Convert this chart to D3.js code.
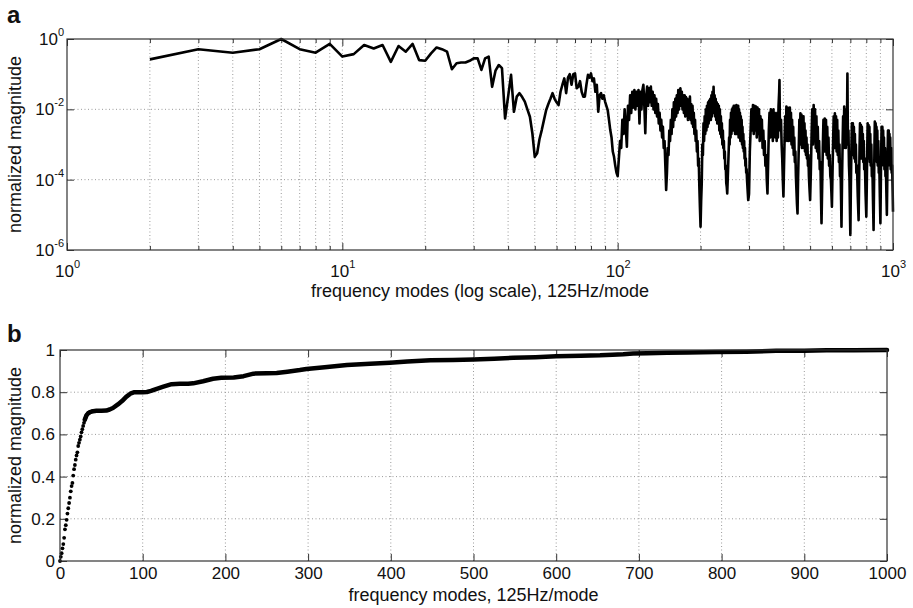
<!DOCTYPE html>
<html>
<head>
<meta charset="utf-8">
<script src="https://d3js.org/d3.v7.min.js"></script>
<style>
    body { margin: 0; background: #fff; }
    text { font-family: "Liberation Sans", Arial, Helvetica, sans-serif; fill: #111; }
    .tick line { stroke: #333; }
    .grid line { stroke: #9a9a9a; stroke-width: 1; stroke-dasharray: 1,2.5; }
</style>
</head>
<body>
<svg id="chart" width="913" height="608"></svg>
<script>
/* === Modal spectrum (a) and cumulative magnitude (b), D3 v7 === */

// ---- panel a: spectrum; second value = log10 of the normalized magnitude
var specLow = [
    [2,-0.58],[3,-0.29],[4,-0.39],[5,-0.29],[6,0],[7,-0.29],[8,-0.39],[9,-0.14],[10,-0.5],
    [11,-0.43],[12,-0.17],[13,-0.27],[14,-0.17],[15,-0.65],[16,-0.2],[17,-0.36],[18,-0.14],[19,-0.6],[20,-0.62],
    [21,-0.41],[22,-0.24],[23,-0.29],[24,-0.36],[25,-0.86],[26,-0.69],[27,-0.67],[28,-0.67],[29,-0.62],[30,-0.55],
    [31,-0.55],[32,-0.88],[33,-0.55],[34,-0.5],[35,-1.36],[36,-0.9],[37,-0.74],[38,-0.83],[39,-2.26],[40,-1.64],
    [41,-1.02],[42,-2.07],[43,-1.64],[44,-1.54],[45,-1.65],[46,-1.78],[47,-2.0],[48,-2.21],[49,-2.68],[50,-3.35],
    [51,-3.25],[52,-2.85],[53,-2.59],[54,-2.3],[55,-2.02],[56,-1.85],[57,-1.7],[58,-1.54],[59,-1.7],[60,-1.8],
    [61,-1.88],[62,-1.5],[63,-1.3],[64,-1.12],[65,-1.54],[66,-1.1],[67,-1.0],[68,-1.3],[69,-1.0],[70,-0.98],
    [71,-1.4],[72,-1.36],[73,-1.2],[74,-1.5],[75,-1.64],[76,-1.64],[77,-1.3],[78,-1.02],[79,-1.1],[80,-0.98],
    [81,-1.2],[82,-1.12],[83,-1.5],[84,-1.3],[85,-2.07],[86,-1.6],[87,-1.54],[88,-1.7],[89,-1.6],[90,-1.78],
    [91,-1.9],[92,-2.02],[93,-2.3],[94,-2.59],[95,-2.8],[96,-3.2],[97,-3.35],[98,-3.6],[99,-3.8],[100,-3.9]
];

// modes above 100, read lobe by lobe (notches every 50 modes)
var specHigh = [
    [101,-3.4],[102,-2.9],[103,-3.1],[104,-2.3],[105,-2.7],[106,-2.0],[107,-2.5],[108,-3.06],[109,-1.9],[110,-2.3],[111,-1.6],[112,-2.1],[113,-1.5],[114,-1.95],[115,-1.45],[116,-2.0],[117,-1.5],[118,-1.9],[119,-1.45],[120,-2.4],[121,-1.5],[122,-2.0],[123,-1.45],[124,-1.3],[125,-1.9],[126,-2.68],[127,-1.6],[128,-1.35],[129,-1.9],[130,-1.4],[131,-1.8],[132,-1.35],[133,-1.9],[134,-1.5],[135,-2.0],[136,-1.6],[137,-2.1],[138,-1.7],[139,-2.2],[140,-1.85],[141,-2.4],[142,-2.1],[143,-2.6],[144,-2.3],[145,-2.8],[146,-2.5],[147,-3.1],[148,-2.9],[149,-3.6],[150,-4.29],
    [151,-3.8],[152,-3.1],[153,-3.3],[154,-2.6],[155,-2.9],[156,-2.3],[157,-2.7],[158,-2.0],[159,-2.5],[160,-1.8],[161,-2.3],[162,-1.7],[163,-2.2],[164,-1.6],[165,-2.1],[166,-1.45],[167,-2.0],[168,-1.5],[169,-1.4],[170,-1.9],[171,-1.5],[172,-2.0],[173,-1.6],[174,-2.1],[175,-1.6],[176,-2.2],[177,-1.65],[178,-2.1],[179,-1.7],[180,-2.3],[181,-1.75],[182,-2.2],[183,-1.64],[184,-2.3],[185,-1.85],[186,-2.4],[187,-1.9],[188,-2.5],[189,-2.1],[190,-2.7],[191,-2.3],[192,-2.9],[193,-2.6],[194,-3.2],[195,-2.9],[196,-3.6],[197,-3.4],[198,-4.2],[199,-4.8],[200,-5.34],
    [201,-4.6],[202,-4.1],[203,-3.0],[204,-3.3],[205,-2.4],[206,-2.9],[207,-2.2],[208,-2.7],[209,-2.0],[210,-2.6],[211,-1.9],[212,-2.5],[213,-1.8],[214,-2.4],[215,-1.75],[216,-2.3],[217,-1.7],[218,-2.3],[219,-1.6],[220,-2.2],[221,-1.5],[222,-2.1],[223,-1.36],[224,-2.0],[225,-1.6],[226,-2.2],[227,-1.7],[228,-2.3],[229,-1.8],[230,-2.4],[231,-1.85],[232,-2.4],[233,-1.9],[234,-2.6],[235,-2.0],[236,-2.7],[237,-2.2],[238,-2.8],[239,-2.4],[240,-3.0],[241,-2.6],[242,-3.1],[243,-2.9],[244,-3.4],[245,-3.2],[246,-3.7],[247,-3.6],[248,-4.1],[249,-4.2],[250,-4.39],
    [251,-4.0],[252,-3.6],[253,-3.2],[254,-2.8],[255,-3.0],[256,-2.3],[257,-2.8],[258,-2.1],[259,-2.7],[260,-2.0],[261,-2.6],[262,-1.95],[263,-2.6],[264,-1.9],[265,-2.6],[266,-1.9],[267,-2.7],[268,-1.9],[269,-2.6],[270,-1.88],[271,-2.7],[272,-1.95],[273,-2.7],[274,-1.9],[275,-2.8],[276,-2.0],[277,-2.7],[278,-2.1],[279,-2.9],[280,-2.2],[281,-2.8],[282,-2.3],[283,-3.0],[284,-2.5],[285,-3.1],[286,-2.7],[287,-3.2],[288,-2.9],[289,-3.4],[290,-3.1],[291,-3.6],[292,-3.4],[293,-3.8],[294,-3.7],[295,-4.0],[296,-4.2],[297,-4.4],[298,-4.58],[299,-4.5],
    [300,-4.4],[302,-3.2],[304,-2.6],[306,-2.0],[308,-2.6],[310,-1.88],[312,-2.7],[314,-1.9],[316,-2.6],[318,-1.92],[320,-2.8],[322,-1.95],[324,-2.7],[326,-2.0],[328,-2.9],[330,-2.2],[332,-2.8],[334,-2.3],[336,-3.1],[338,-2.6],[340,-3.3],[342,-2.9],[344,-3.6],[346,-3.3],[348,-4.0],[350,-4.39],
    [352,-3.5],[354,-2.6],[356,-2.1],[358,-2.8],[360,-2.0],[362,-2.7],[364,-2.05],[366,-2.9],[368,-2.0],[370,-2.7],[372,-2.1],[374,-2.8],[376,-2.2],[378,-2.9],[380,-2.1],[382,-2.8],[384,-1.9],[386,-1.5],[387,-1.17],[388,-2.2],[390,-2.6],[392,-2.3],[394,-3.0],[396,-3.4],[398,-4.0],[400,-4.48],
    [402,-3.6],[404,-2.8],[406,-2.2],[408,-2.9],[410,-1.92],[412,-2.8],[414,-1.95],[416,-2.9],[418,-2.0],[420,-2.8],[422,-1.95],[424,-2.9],[426,-2.1],[428,-3.0],[430,-2.3],[432,-3.1],[434,-2.5],[436,-3.3],[438,-2.8],[440,-3.5],[442,-3.2],[444,-3.9],[446,-4.3],[448,-4.7],[450,-4.96],
    [452,-4.0],[455,-3.0],[457,-2.3],[459,-3.0],[461,-2.11],[463,-3.0],[465,-2.15],[467,-3.1],[469,-2.2],[471,-3.0],[473,-2.2],[475,-3.1],[477,-2.4],[479,-3.2],[481,-2.6],[483,-3.3],[485,-2.8],[487,-3.4],[489,-3.0],[491,-3.6],[493,-3.3],[495,-3.9],[497,-4.2],[500,-4.58],
    [503,-3.8],[506,-2.8],[509,-2.0],[512,-3.0],[515,-1.88],[518,-2.9],[521,-2.0],[524,-3.1],[527,-2.2],[530,-3.2],[533,-2.5],[536,-3.4],[539,-2.9],[542,-3.7],[545,-3.5],[548,-4.6],[550,-5.24],
    [553,-4.2],[556,-3.1],[559,-2.3],[562,-3.2],[565,-2.26],[568,-3.2],[571,-2.3],[574,-3.3],[577,-2.5],[580,-3.4],[583,-2.8],[586,-3.6],[589,-3.3],[592,-3.9],[595,-4.0],[600,-4.77],
    [603,-3.8],[606,-2.9],[609,-2.2],[612,-3.1],[615,-2.11],[618,-3.1],[621,-2.2],[624,-3.2],[627,-2.3],[630,-3.3],[633,-2.6],[636,-3.5],[639,-3.0],[642,-3.9],[645,-3.6],[648,-4.6],[650,-5.34],
    [653,-4.0],[656,-3.0],[659,-2.2],[662,-3.1],[665,-1.92],[668,-3.0],[671,-2.0],[674,-3.1],[677,-2.1],[680,-2.8],[682,-1.6],[683,-0.98],[684,-1.7],[686,-3.0],[689,-2.6],[692,-3.6],[695,-4.0],[698,-5.0],[700,-5.57],
    [703,-4.2],[706,-3.2],[709,-2.4],[712,-3.3],[715,-2.4],[718,-3.3],[721,-2.5],[724,-3.4],[727,-2.7],[730,-3.5],[733,-3.0],[736,-3.8],[740,-3.6],[745,-4.5],[750,-5.15],
    [753,-4.1],[756,-3.1],[759,-2.4],[762,-3.3],[765,-2.45],[768,-3.4],[771,-2.5],[774,-3.4],[777,-2.7],[780,-3.5],[783,-2.9],[786,-3.7],[790,-3.4],[795,-4.4],[800,-5.05],
    [803,-4.2],[806,-3.2],[809,-2.4],[812,-3.4],[815,-2.45],[818,-3.4],[821,-2.5],[824,-3.5],[827,-2.7],[830,-3.6],[834,-3.0],[838,-3.9],[842,-3.7],[846,-4.6],[850,-5.43],
    [853,-4.3],[856,-3.2],[859,-2.35],[862,-3.4],[865,-2.4],[868,-3.4],[871,-2.5],[874,-3.5],[877,-2.6],[880,-3.6],[884,-2.9],[888,-3.8],[892,-3.6],[896,-4.5],[900,-5.24],
    [903,-4.2],[906,-3.2],[909,-2.5],[912,-3.5],[915,-2.5],[918,-3.5],[921,-2.6],[924,-3.6],[927,-2.8],[931,-3.7],[935,-3.1],[939,-3.9],[943,-3.8],[947,-4.5],[950,-5.0],
    [953,-4.1],[956,-3.2],[959,-2.6],[962,-3.5],[965,-2.6],[968,-3.5],[971,-2.7],[974,-3.6],[977,-2.8],[981,-3.7],[985,-3.1],[989,-3.8],[993,-3.6],[997,-4.3],[1000,-4.91]
];

var aXTicks = [1, 10, 100, 1000];
var aYTicks = [1e-6, 1e-4, 1e-2, 1];

// ---- panel b: cumulative normalized magnitude, one dot per mode at the start
var cumDots = [
    [0,0],[1,0.02],[2,0.037],[3,0.06],[4,0.08],[5,0.11],[6,0.15],[7,0.17],[8,0.195],[9,0.225],[10,0.25],
    [11,0.275],[12,0.3],[13,0.33],[14,0.355],[15,0.37],[16,0.405],[17,0.435],[18,0.455],[19,0.48],[20,0.5],
    [21,0.515],[22,0.545],[23,0.56],[24,0.575],[25,0.59],[26,0.61],[27,0.625],[28,0.64],[29,0.655],[30,0.67],
    [31,0.68],[32,0.69],[33,0.695],[34,0.7],[35,0.703],[36,0.705],[37,0.707],[38,0.708],[39,0.709],[40,0.71]
];
var cumLine = [
    [30,0.67],[32,0.69],[34,0.7],[37,0.707],[40,0.71],[44,0.712],[50,0.712],[56,0.713],[60,0.718],[64,0.725],[70,0.742],
    [75,0.758],[80,0.778],[85,0.793],[90,0.8],[100,0.8],[105,0.801],[110,0.806],[117,0.816],[125,0.826],
    [135,0.838],[145,0.84],[155,0.84],[161,0.842],[173,0.852],[185,0.864],[195,0.868],[210,0.87],[222,0.876],
    [234,0.888],[250,0.89],[262,0.891],[275,0.897],[290,0.905],[298,0.91],[320,0.918],[347,0.929],[375,0.935],
    [399,0.94],[420,0.945],[448,0.951],[475,0.953],[500,0.955],[525,0.959],[548,0.963],[575,0.966],[600,0.97],
    [630,0.973],[653,0.975],[668,0.978],[681,0.98],[693,0.983],[710,0.985],[734,0.987],[760,0.988],[794,0.99],
    [830,0.992],[866,0.996],[900,0.997],[927,0.999],[960,0.999],[1000,1.0]
];

var bXTicks = [0, 100, 200, 300, 400, 500, 600, 700, 800, 900, 1000];
var bYTicks = [0, 0.2, 0.4, 0.6, 0.8, 1];

var svg = d3.select('#chart');

// inward ticks on all four sides of a box
function boxTicks(g, x, y, box, xv, yv, len) {
    g.append('g').attr('transform', 'translate(0,' + box.bottom + ')')
        .call(d3.axisBottom(x).tickValues(xv).tickSize(-len).tickSizeOuter(0).tickFormat(''));
    g.append('g').attr('transform', 'translate(0,' + box.top + ')')
        .call(d3.axisTop(x).tickValues(xv).tickSize(-len).tickSizeOuter(0).tickFormat(''));
    g.append('g').attr('transform', 'translate(' + box.left + ',0)')
        .call(d3.axisLeft(y).tickValues(yv).tickSize(-len).tickSizeOuter(0).tickFormat(''));
    g.append('g').attr('transform', 'translate(' + box.right + ',0)')
        .call(d3.axisRight(y).tickValues(yv).tickSize(-len).tickSizeOuter(0).tickFormat(''));
    g.selectAll('.domain').remove();
}

function grid(g, x, y, box, xv, yv) {
    var gg = g.append('g').attr('class', 'grid');
    gg.selectAll('line.gx').data(xv).join('line').attr('class', 'gx')
        .attr('x1', function(d) { return x(d); }).attr('x2', function(d) { return x(d); })
        .attr('y1', box.top).attr('y2', box.bottom);
    gg.selectAll('line.gy').data(yv).join('line').attr('class', 'gy')
        .attr('x1', box.left).attr('x2', box.right)
        .attr('y1', function(d) { return y(d); }).attr('y2', function(d) { return y(d); });
}

function powerLabel(sel) {
    sel.each(function(d) {
        var t = d3.select(this);
        t.text(null);
        t.append('tspan').text('10');
        t.append('tspan').attr('dy', -9).style('font-size', '11px')
            .text(Math.round(Math.log10(d)));
    });
}

/* ---------- panel a ---------- */
var boxA = { left: 67, right: 893, top: 39, bottom: 250 };
var xA = d3.scaleLog().domain([1, 1000]).range([boxA.left, boxA.right]);
var yA = d3.scaleLog().domain([1e-6, 1]).range([boxA.bottom, boxA.top]);
var gA = svg.append('g');

var xAll = xA.ticks();
grid(gA, xA, yA, boxA,
    xAll.filter(function(d) { return d > 1 && d < 1000; }),
    aYTicks.filter(function(d) { return d > 1e-6 && d < 1; }));

var minorA = xAll.filter(function(d) { return aXTicks.indexOf(d) < 0; });
boxTicks(gA, xA, yA, boxA, minorA, [], 4);
boxTicks(gA, xA, yA, boxA, aXTicks, aYTicks, 7);

var spectrum = specLow.concat(specHigh);
gA.append('path')
    .datum(spectrum)
    .attr('fill', 'none')
    .attr('stroke', '#000')
    .attr('stroke-width', 2.6)
    .attr('stroke-linejoin', 'round')
    .attr('d', d3.line()
        .x(function(d) { return xA(d[0]); })
        .y(function(d) { return yA(Math.pow(10, d[1])); }));

gA.append('rect')
    .attr('x', boxA.left).attr('y', boxA.top)
    .attr('width', boxA.right - boxA.left).attr('height', boxA.bottom - boxA.top)
    .attr('fill', 'none').attr('stroke', '#333').attr('stroke-width', 1.2);

var axA = gA.append('g').attr('transform', 'translate(0,' + boxA.bottom + ')')
    .call(d3.axisBottom(xA).tickValues(aXTicks).tickSize(0).tickPadding(15));
axA.select('.domain').remove();
axA.selectAll('text').style('font-size', '17px').call(powerLabel);

var ayA = gA.append('g').attr('transform', 'translate(' + boxA.left + ',0)')
    .call(d3.axisLeft(yA).tickValues(aYTicks).tickSize(0).tickPadding(3));
ayA.select('.domain').remove();
ayA.selectAll('text').style('font-size', '17px').call(powerLabel);

gA.append('text')
    .attr('x', (boxA.left + boxA.right) / 2).attr('y', 297)
    .attr('text-anchor', 'middle').style('font-size', '18px')
    .text('frequency modes (log scale), 125Hz/mode');
gA.append('text')
    .attr('transform', 'translate(21,' + (boxA.top + boxA.bottom) / 2 + ') rotate(-90)')
    .attr('text-anchor', 'middle').style('font-size', '18px')
    .text('normalized magnitude');
gA.append('text').attr('x', 7).attr('y', 23)
    .style('font-size', '24px').style('font-weight', 'bold').text('a');

/* ---------- panel b ---------- */
var boxB = { left: 60, right: 887, top: 350, bottom: 561 };
var xB = d3.scaleLinear().domain([0, 1000]).range([boxB.left, boxB.right]);
var yB = d3.scaleLinear().domain([0, 1]).range([boxB.bottom, boxB.top]);
var gB = svg.append('g');

grid(gB, xB, yB, boxB,
    bXTicks.filter(function(d) { return d > 0 && d < 1000; }),
    bYTicks.filter(function(d) { return d > 0 && d < 1; }));
boxTicks(gB, xB, yB, boxB, bXTicks, bYTicks, 7);

gB.append('path')
    .datum(cumLine)
    .attr('fill', 'none')
    .attr('stroke', '#000')
    .attr('stroke-width', 4.5)
    .attr('stroke-linejoin', 'round')
    .attr('stroke-linecap', 'round')
    .attr('d', d3.line()
        .x(function(d) { return xB(d[0]); })
        .y(function(d) { return yB(d[1]); }));

gB.selectAll('circle')
    .data(cumDots)
    .join('circle')
    .attr('cx', function(d) { return xB(d[0]); })
    .attr('cy', function(d) { return yB(d[1]); })
    .attr('r', 1.9)
    .attr('fill', '#000');

gB.append('rect')
    .attr('x', boxB.left).attr('y', boxB.top)
    .attr('width', boxB.right - boxB.left).attr('height', boxB.bottom - boxB.top)
    .attr('fill', 'none').attr('stroke', '#333').attr('stroke-width', 1.2);

var axB = gB.append('g').attr('transform', 'translate(0,' + boxB.bottom + ')')
    .call(d3.axisBottom(xB).tickValues(bXTicks).tickSize(0).tickPadding(6).tickFormat(d3.format('d')));
axB.select('.domain').remove();
axB.selectAll('text').style('font-size', '17px');

var ayB = gB.append('g').attr('transform', 'translate(' + boxB.left + ',0)')
    .call(d3.axisLeft(yB).tickValues(bYTicks).tickSize(0).tickPadding(5).tickFormat(function(d) { return String(d); }));
ayB.select('.domain').remove();
ayB.selectAll('text').style('font-size', '17px');

gB.append('text')
    .attr('x', (boxB.left + boxB.right) / 2).attr('y', 601)
    .attr('text-anchor', 'middle').style('font-size', '18px')
    .text('frequency modes, 125Hz/mode');
gB.append('text')
    .attr('transform', 'translate(21,' + (boxB.top + boxB.bottom) / 2 + ') rotate(-90)')
    .attr('text-anchor', 'middle').style('font-size', '18px')
    .text('normalized magnitude');
gB.append('text').attr('x', 7).attr('y', 342)
    .style('font-size', '24px').style('font-weight', 'bold').text('b');
</script>
</body>
</html>
